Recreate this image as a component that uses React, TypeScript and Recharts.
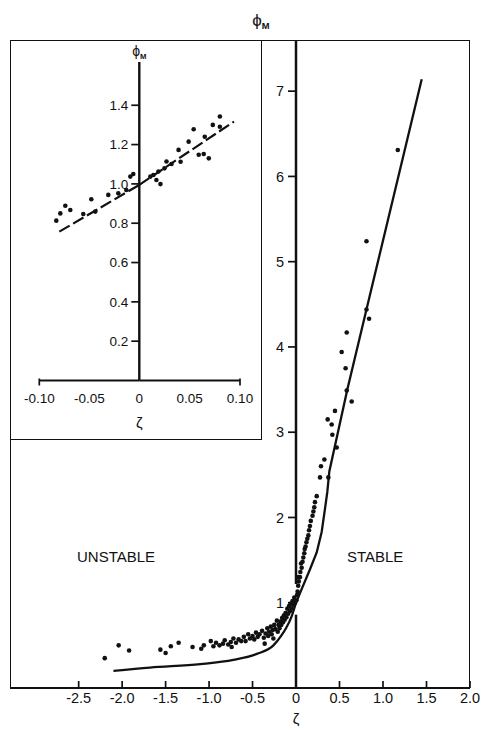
import { ComposedChart, Scatter, Line, XAxis, YAxis, ReferenceLine, ReferenceDot } from 'recharts'

// values as [ζ, φM]
const unstablePts: [number, number][] = [
  [-2.2, 0.35], [-2.04, 0.5], [-1.92, 0.44], [-1.56, 0.45], [-1.5, 0.41], [-1.44, 0.49],
  [-1.35, 0.53], [-1.19, 0.48], [-1.09, 0.46], [-1.06, 0.5], [-0.98, 0.55], [-0.95, 0.49],
  [-0.92, 0.53], [-0.88, 0.5], [-0.84, 0.52], [-0.82, 0.56], [-0.78, 0.51], [-0.75, 0.54],
  [-0.74, 0.48], [-0.72, 0.58], [-0.69, 0.53], [-0.66, 0.57], [-0.63, 0.55], [-0.6, 0.6],
  [-0.58, 0.55], [-0.55, 0.63], [-0.53, 0.58], [-0.5, 0.61], [-0.48, 0.57], [-0.46, 0.65],
  [-0.44, 0.6], [-0.42, 0.63], [-0.39, 0.67], [-0.37, 0.59], [-0.36, 0.52], [-0.35, 0.64],
  [-0.33, 0.7], [-0.32, 0.61], [-0.31, 0.66], [-0.29, 0.72], [-0.28, 0.63], [-0.27, 0.68],
  [-0.26, 0.58], [-0.25, 0.74], [-0.24, 0.69], [-0.22, 0.79], [-0.21, 0.66], [-0.2, 0.74],
  [-0.19, 0.7], [-0.18, 0.78], [-0.17, 0.74], [-0.16, 0.82], [-0.15, 0.77], [-0.14, 0.85],
  [-0.13, 0.8], [-0.12, 0.88], [-0.11, 0.83], [-0.1, 0.93], [-0.09, 0.87], [-0.08, 0.96],
  [-0.07, 0.9], [-0.06, 0.99], [-0.05, 0.93], [-0.04, 1.02], [-0.03, 0.97], [-0.02, 1.06],
  [-0.01, 1.0],
]

const stablePts: [number, number][] = [
  [0.005, 1.03], [0.012, 1.09], [0.018, 1.13], [0.025, 1.2], [0.032, 1.25], [0.027, 1.3],
  [0.045, 1.3], [0.05, 1.36], [0.065, 1.41], [0.058, 1.46], [0.075, 1.48], [0.084, 1.53],
  [0.095, 1.58], [0.1, 1.63], [0.11, 1.66], [0.12, 1.71], [0.13, 1.75], [0.142, 1.79],
  [0.15, 1.85], [0.16, 1.9], [0.17, 1.96], [0.19, 2.02], [0.2, 2.07], [0.21, 2.12],
  [0.218, 2.18], [0.238, 2.25], [0.276, 2.47], [0.287, 2.6], [0.326, 2.68], [0.372, 2.47],
  [0.418, 2.97], [0.41, 3.09], [0.364, 3.15], [0.448, 3.25], [0.468, 2.82], [0.583, 3.49],
  [0.64, 3.36], [0.57, 3.75], [0.525, 3.94], [0.583, 4.17], [0.81, 4.44], [0.84, 4.33],
  [0.81, 5.24], [1.17, 6.31],
]

const unstableCurve: [number, number][] = [
  [-2.1, 0.2], [-1.68, 0.24], [-1.1, 0.28], [-0.72, 0.33], [-0.45, 0.4], [-0.26, 0.5],
  [-0.165, 0.62], [-0.115, 0.7], [-0.05, 0.84], [0, 1.0],
]

const stableCurve: [number, number][] = [
  [0, 1.0], [0.065, 1.16], [0.16, 1.39], [0.238, 1.59], [0.295, 1.83], [0.333, 2.1],
  [0.36, 2.3], [0.383, 2.54], [0.59, 3.5], [0.81, 4.44], [1.445, 7.14],
]

const insetPts: [number, number][] = [
  [-0.083, 0.813], [-0.079, 0.85], [-0.074, 0.889], [-0.069, 0.867], [-0.056, 0.847],
  [-0.048, 0.922], [-0.044, 0.859], [-0.031, 0.944], [-0.021, 0.952], [-0.013, 0.969],
  [-0.009, 1.037], [-0.006, 1.05], [0.011, 1.037], [0.014, 1.045], [0.017, 1.02],
  [0.021, 0.999], [0.019, 1.063], [0.025, 1.079], [0.027, 1.114], [0.032, 1.101],
  [0.039, 1.173], [0.041, 1.113], [0.049, 1.215], [0.054, 1.278], [0.059, 1.148],
  [0.064, 1.152], [0.065, 1.24], [0.069, 1.13], [0.073, 1.3], [0.08, 1.343], [0.08, 1.291],
]

const insetFit: [number, number][] = [[-0.08, 0.757], [0, 0.995], [0.094, 1.317]]

const mainTicksNeg = [-2.5, -2, -1.5, -1, -0.5, 0]
const mainTicksPos = [0.5, 1, 1.5, 2]
const mainPhiTicks = [1, 2, 3, 4, 5, 6, 7]
const insetTicksNeg = [-0.1, -0.05, 0]
const insetTicksPos = [0.05, 0.1]
const insetPhiTicks = [0.2, 0.4, 0.6, 0.8, 1.0, 1.2, 1.4]

const INK = '#111'
const FONT = '"Liberation Sans", Arial, sans-serif'
const W = 485
const H = 732
// main frame (page px)
const FL = 10, FT = 40, FR = 470, FB = 688, AX = 296
// inset box and inset plot area
const IR = 262, IB = 440
const IPL = 39.3, IPR = 240, IPT = 62, IPB = 380.5, IAX = 139.3
const XH = 30 // x-axis band height
const YW = 32 // y-axis band width

const toXY = (pts: [number, number][]) => pts.map(([x, y]) => ({ x, y }))
const neg = (pts: [number, number][]) => toXY(pts.filter(p => p[0] <= 0))
const pos = (pts: [number, number][]) => toXY(pts.filter(p => p[0] >= 0))

const fmtMain = (v: number) => (v === 0 ? '0' : v.toFixed(1))
const fmtInset = (v: number) => (v === 0 ? '0' : v.toFixed(2))

const abs: React.CSSProperties = { position: 'absolute', left: 0, top: 0 }

const Dot = (p: any) => <circle cx={p.cx} cy={p.cy} r={2.3} fill={INK} />

// bottom ticks that point up into the plot
function UpTick({ x, y, payload }: any) {
  return (
    <g>
      <line x1={x} x2={x} y1={y} y2={y - 7} stroke={INK} strokeWidth={1.7} />
      <text x={x} y={y + 15} textAnchor="middle" fontSize={14.5} fontFamily={FONT} fill={INK}>
        {fmtMain(payload.value)}
      </text>
    </g>
  )
}

function InsetTick({ x, y, payload }: any) {
  const end = Math.abs(payload.value) > 0.09
  return (
    <g>
      {end && <line x1={x} x2={x} y1={y - 2} y2={y + 5} stroke={INK} strokeWidth={1.7} />}
      <text x={x} y={y + 22} textAnchor="middle" fontSize={13.5} fontFamily={FONT} fill={INK}>
        {fmtInset(payload.value)}
      </text>
    </g>
  )
}

function PhiM({ x, y, size }: { x: number; y: number; size: number }) {
  return (
    <text x={x} y={y} textAnchor="middle" fontFamily={FONT} fill={INK}>
      <tspan fontSize={size}>ϕ</tspan>
      <tspan fontSize={size * 0.55} fontWeight="bold" dy={3}>M</tspan>
    </text>
  )
}

const zetaLabel = (dy: number) => (props: any) => {
  const vb = props.viewBox
  return (
    <text x={vb.x + vb.width} y={vb.y + dy} textAnchor="middle" fontSize={15} fontFamily={FONT} fill={INK}>
      ζ
    </text>
  )
}

export default function App() {
  return (
    <div style={{ position: 'absolute', left: 0, top: 0, width: W, height: H, background: '#fff' }}>
      {/* outer frame */}
      <div style={{ position: 'absolute', left: FL, top: FT, width: FR - FL, height: FB - FT, border: `1.6px solid ${INK}`, boxSizing: 'border-box' }} />

      {/* main, unstable side */}
      <ComposedChart width={W} height={H} style={abs}
        margin={{ top: FT, right: W - AX, bottom: H - FB - XH, left: FL }}>
        <XAxis type="number" dataKey="x" domain={[-3.29, 0]} ticks={mainTicksNeg} interval={0}
          height={XH} tickSize={0} tickMargin={0} tickLine={false} tick={UpTick}
          axisLine={{ stroke: INK, strokeWidth: 1.9 }} label={zetaLabel(36)} />
        <YAxis type="number" dataKey="y" domain={[0, 7.6]} width={0} hide />
        <Line data={toXY(unstableCurve)} dataKey="y" type="monotone" stroke={INK} strokeWidth={2.3}
          dot={false} isAnimationActive={false} />
        <Scatter data={toXY(unstablePts)} shape={Dot} isAnimationActive={false} />
        <ReferenceDot x={-2.07} y={1.54} r={0} stroke="none" fill="none"
          label={{ value: 'UNSTABLE', position: 'center', fontSize: 15, fill: INK, fontFamily: FONT }} />
      </ComposedChart>

      {/* main, stable side with the φM axis */}
      <ComposedChart width={W} height={H} style={abs}
        margin={{ top: FT, right: W - FR, bottom: H - FB - XH, left: AX - YW }}>
        <XAxis type="number" dataKey="x" domain={[0, 2]} ticks={mainTicksPos} interval={0}
          height={XH} tickSize={0} tickMargin={0} tickLine={false} tick={UpTick}
          axisLine={{ stroke: INK, strokeWidth: 1.9 }} />
        <YAxis type="number" dataKey="y" domain={[0, 7.6]} ticks={mainPhiTicks} interval={0} width={YW}
          axisLine={false} tickSize={8} tickMargin={4} tickLine={{ stroke: INK, strokeWidth: 1.7 }}
          tick={{ fontSize: 14.5, fill: INK, fontFamily: FONT }}
          label={(props: any) => <PhiM x={props.viewBox.x + props.viewBox.width - 35} y={props.viewBox.y - 14} size={17} />} />
        <ReferenceLine segment={[{ x: 0, y: 0 }, { x: 0, y: 0.86 }]} stroke={INK} strokeWidth={2.5} />
        <ReferenceLine segment={[{ x: 0, y: 1.22 }, { x: 0, y: 7.6 }]} stroke={INK} strokeWidth={2.5} />
        <Line data={toXY(stableCurve)} dataKey="y" type="linear" stroke={INK} strokeWidth={2.3}
          dot={false} isAnimationActive={false} />
        <Scatter data={toXY(stablePts)} shape={Dot} isAnimationActive={false} />
        <ReferenceDot x={0.91} y={1.54} r={0} stroke="none" fill="none"
          label={{ value: 'STABLE', position: 'center', fontSize: 15, fill: INK, fontFamily: FONT }} />
      </ComposedChart>

      {/* inset box */}
      <div style={{ position: 'absolute', left: FL, top: FT, width: IR - FL, height: IB - FT, border: `1.6px solid ${INK}`, boxSizing: 'border-box', background: '#fff' }} />

      {/* inset, negative ζ */}
      <ComposedChart width={W} height={H} style={abs}
        margin={{ top: IPT, right: W - IAX, bottom: H - IPB - XH, left: IPL }}>
        <XAxis type="number" dataKey="x" domain={[-0.1, 0]} ticks={insetTicksNeg} interval={0}
          height={XH} tickSize={0} tickMargin={0} tickLine={false} tick={InsetTick}
          axisLine={{ stroke: INK, strokeWidth: 1.9 }} label={zetaLabel(47)} />
        <YAxis type="number" dataKey="y" domain={[0, 1.62]} width={0} hide />
        <Line data={neg(insetFit)} dataKey="y" type="linear" stroke={INK} strokeWidth={2.2}
          strokeDasharray="12 4" dot={false} isAnimationActive={false} />
        <Scatter data={neg(insetPts)} shape={Dot} isAnimationActive={false} />
      </ComposedChart>

      {/* inset, positive ζ with the φM axis */}
      <ComposedChart width={W} height={H} style={abs}
        margin={{ top: IPT, right: W - IPR, bottom: H - IPB - XH, left: IAX - YW }}>
        <XAxis type="number" dataKey="x" domain={[0, 0.1]} ticks={insetTicksPos} interval={0}
          height={XH} tickSize={0} tickMargin={0} tickLine={false} tick={InsetTick}
          axisLine={{ stroke: INK, strokeWidth: 1.9 }} />
        <YAxis type="number" dataKey="y" domain={[0, 1.62]} ticks={insetPhiTicks} interval={0} width={YW}
          axisLine={{ stroke: INK, strokeWidth: 2.4 }} tickSize={8} tickMargin={3}
          tickLine={{ stroke: INK, strokeWidth: 1.7 }} tickFormatter={(v: number) => v.toFixed(1)}
          tick={{ fontSize: 13.5, fill: INK, fontFamily: FONT }}
          label={(props: any) => <PhiM x={props.viewBox.x + props.viewBox.width} y={props.viewBox.y - 6} size={14} />} />
        <Line data={pos(insetFit)} dataKey="y" type="linear" stroke={INK} strokeWidth={2.2}
          strokeDasharray="12 4" dot={false} isAnimationActive={false} />
        <Scatter data={pos(insetPts)} shape={Dot} isAnimationActive={false} />
      </ComposedChart>
    </div>
  )
}
